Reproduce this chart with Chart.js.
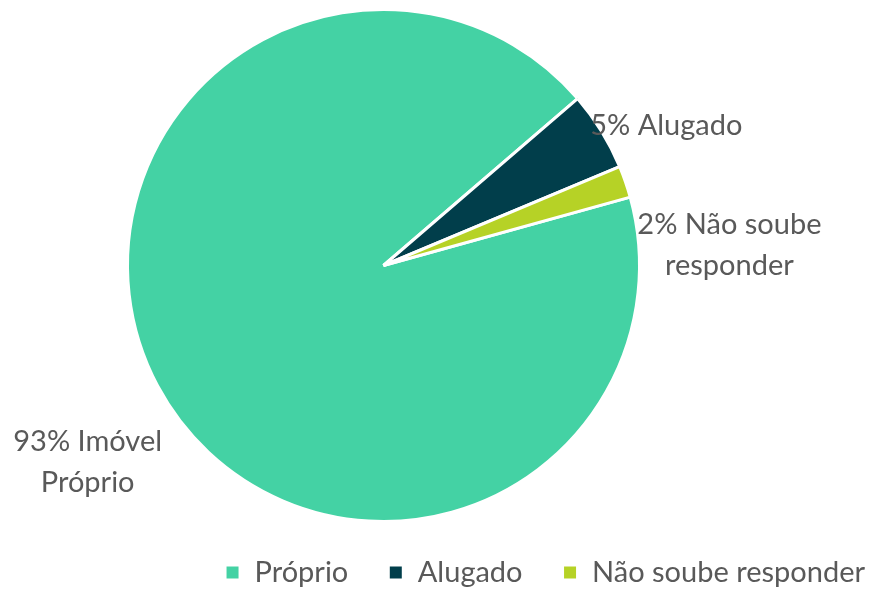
<!DOCTYPE html>
<html>
<head>
<meta charset="utf-8">
<script src="https://cdn.jsdelivr.net/npm/chart.js@4.4.0/dist/chart.umd.min.js"></script>
<style>
  body { margin: 0; background: #fff; }
</style>
</head>
<body>
<canvas id="chart" width="873" height="589"></canvas>
<script>
const categories = ['Próprio', 'Alugado', 'Não soube responder'];
const shares = [93, 5, 2];
const sliceColors = ['#44D2A4', '#013E4B', '#B6D226'];
// outside labels, first line gets the percentage in front
const sliceLabels = [['Imóvel', 'Próprio'], ['Alugado'], ['Não soube', 'responder']];

const textColor = '#595959';
const fontFamily = 'Lato, "Open Sans", sans-serif';

// label centre offset from the outer middle of each slice
const labelOffsets = [[-70, 76], [65, -5], [104, 63]];

const sliceLabelPlugin = {
  id: 'sliceLabels',
  afterDatasetsDraw(chart) {
    const ctx = chart.ctx;
    const arcs = chart.getDatasetMeta(0).data;
    ctx.save();
    ctx.font = '29px ' + fontFamily;
    ctx.fillStyle = textColor;
    ctx.textAlign = 'center';
    ctx.textBaseline = 'middle';
    arcs.forEach((arc, i) => {
      const p = arc.getProps(['x', 'y', 'startAngle', 'endAngle', 'outerRadius'], true);
      const mid = (p.startAngle + p.endAngle) / 2;
      const lines = sliceLabels[i].map((t, j) => j === 0 ? shares[i] + '% ' + t : t);
      const cx = p.x + Math.cos(mid) * p.outerRadius + labelOffsets[i][0];
      const cy = p.y + Math.sin(mid) * p.outerRadius + labelOffsets[i][1];
      lines.forEach((t, j) => {
        ctx.fillText(t, cx, cy + (j - (lines.length - 1) / 2) * 41);
      });
    });
    ctx.restore();
  }
};

// pie sits left of centre, legend hugs the right edge
const placeBoxes = {
  id: 'placeBoxes',
  afterLayout(chart) {
    const size = 515;
    chart.chartArea = { left: 126, top: 8, right: 126 + size, bottom: 8 + size, width: size, height: size };
    const lg = chart.legend;
    const w = lg.right - lg.left;
    lg.right = 905;
    lg.left = lg.right - w;
    lg.top += 8;
    lg.bottom += 8;
  }
};

new Chart(document.getElementById('chart'), {
  type: 'pie',
  data: {
    labels: categories,
    datasets: [{
      data: shares,
      backgroundColor: sliceColors,
      borderColor: '#ffffff',
      borderWidth: 3
    }]
  },
  options: {
    responsive: false,
    animation: false,
    rotation: 74.5,
    layout: { padding: { top: 8 } },
    events: [],
    plugins: {
      tooltip: { enabled: false },
      legend: {
        position: 'bottom',
        align: 'end',
        labels: {
          boxWidth: 15,
          boxHeight: 15,
          padding: 40,
          color: textColor,
          font: { family: fontFamily, size: 29 }
        }
      }
    }
  },
  plugins: [sliceLabelPlugin, placeBoxes]
});
</script>
</body>
</html>
